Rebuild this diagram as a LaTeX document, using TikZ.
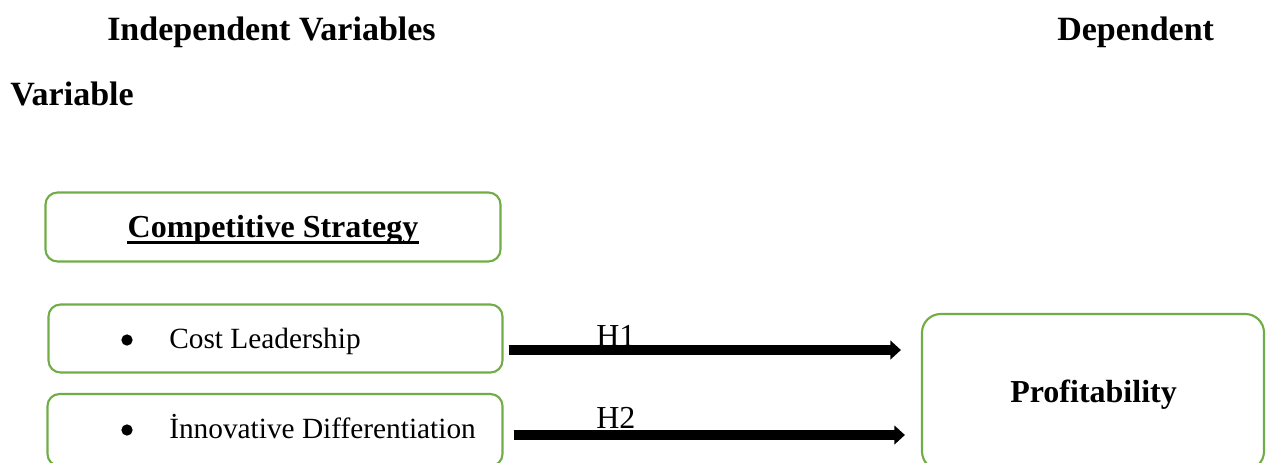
\documentclass[tikz,border=0pt]{standalone}
\usepackage{fontspec}
\setmainfont{Liberation Serif}
\usetikzlibrary{calc,arrows.meta}
\definecolor{boxgreen}{HTML}{70AD47}
\begin{document}
\begin{tikzpicture}[x=0.75pt,y=-0.75pt,
  box/.style={draw=boxgreen,line width=1.6pt,rounded corners=9pt,inner sep=0pt},
  head/.style={anchor=base west,inner sep=0pt,font=\fontsize{25.5}{30}\selectfont\bfseries},
  lbl/.style={anchor=base west,inner sep=0pt,font=\fontsize{22}{26}\selectfont},
  blbl/.style={anchor=base west,inner sep=0pt,font=\fontsize{24}{28}\selectfont\bfseries},
  hyp/.style={anchor=base west,inner sep=0pt,font=\fontsize{24}{28}\selectfont},
  dot/.style={circle,fill=black,inner sep=0pt,minimum size=8.5pt},
  arr/.style={line width=7pt,-{Triangle[length=8pt,width=14pt]}}]
\useasboundingbox (0,0) rectangle (1266,462);
\clip (0,0) rectangle (1266,462);
% headings
\node[head] (indep) at (107,40) {Independent Variables};
\node[head] (dep) at (1057,40) {Dependent};
\node[head] (var) at (10,105) {Variable};
% boxes
\node[box,minimum width=341.25pt,minimum height=51.75pt] (comp) at (273,227) {};
\node[blbl,anchor=base] (comptext) at (273,237) {Competitive Strategy};
\draw[line width=1.8pt] ([yshift=-4.2pt]comptext.base west) -- ([yshift=-4.2pt]comptext.base east);
\node[box,minimum width=340.5pt,minimum height=51pt] (cost) at (275.5,338.5) {};
\node[dot] (b1) at (127,340) {};
\node[lbl] (costtext) at (169,348) {Cost Leadership};
\node[box,minimum width=341.25pt,minimum height=54pt] (innov) at (275,430) {};
\node[dot] (b2) at (127,430) {};
\node[lbl] (innovtext) at (169,438) {İnnovative Differentiation};
\node[box,minimum width=256.5pt,minimum height=117pt,rounded corners=14pt] (profit) at (1093,392) {};
\node[blbl] (proftext) at (1010,402) {Profitability};
% arrows
\draw[arr] ($(cost.east)+(5,11.5)$) -- ($(profit.west |- cost.east)+(-20,11.5)$);
\draw[arr] ($(innov.east)+(10,5)$) -- ($(profit.west |- innov.east)+(-16,5)$);
\node[hyp] (h1) at (596,346) {H1};
\node[hyp] (h2) at (596,428) {H2};
\end{tikzpicture}
\end{document}
